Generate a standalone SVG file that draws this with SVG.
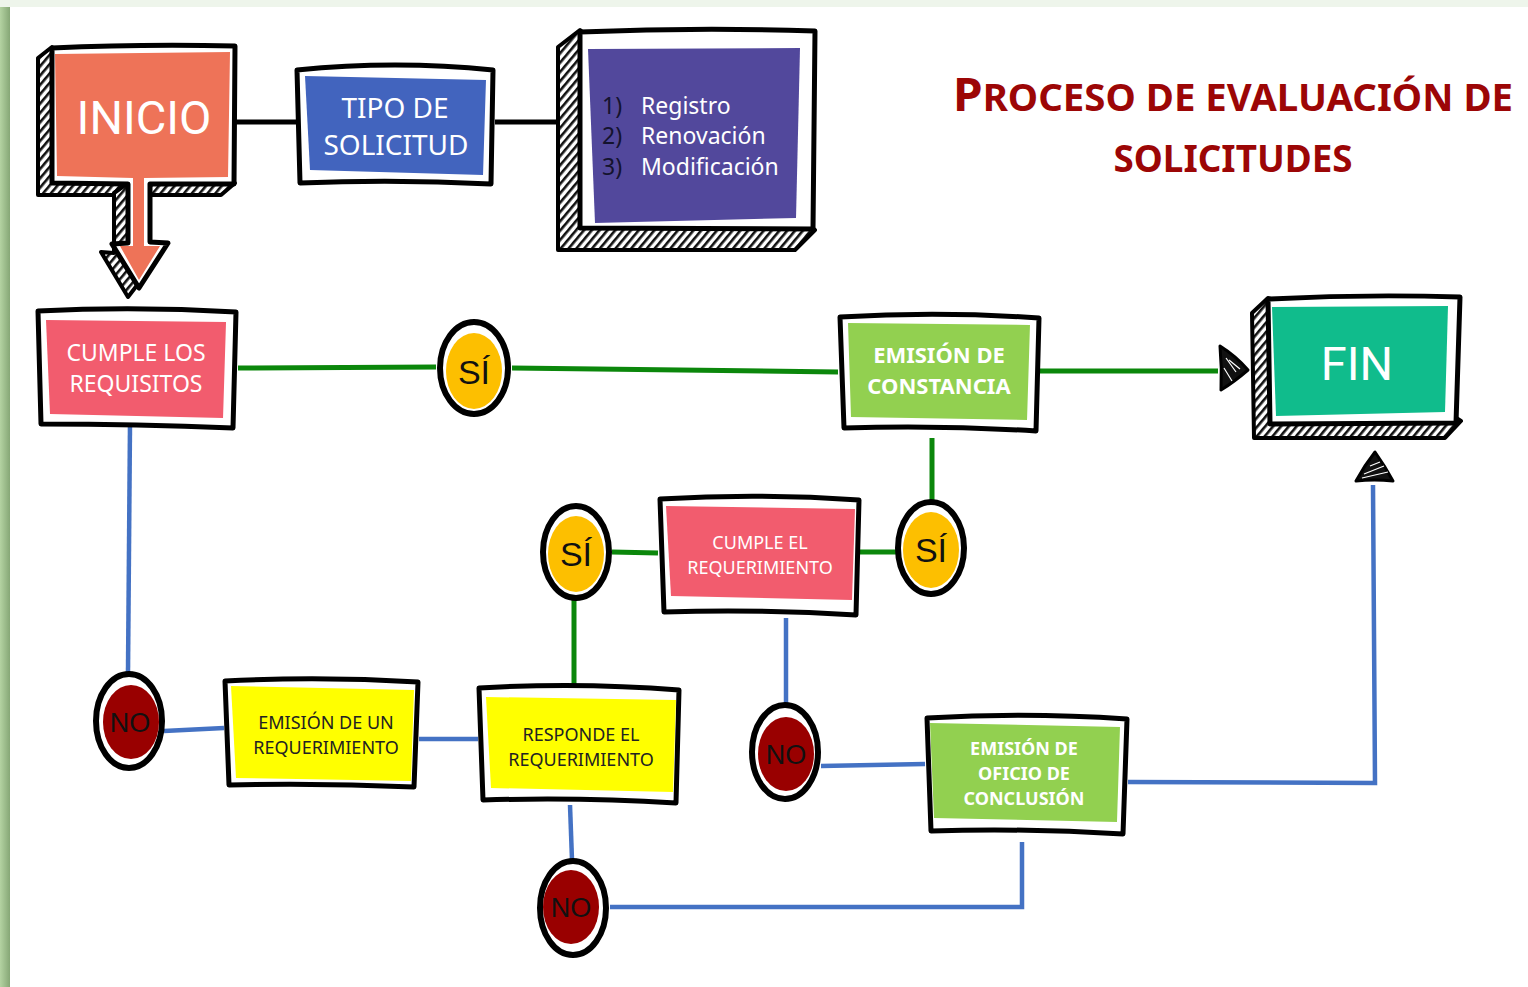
<svg xmlns="http://www.w3.org/2000/svg" width="1528" height="987" viewBox="0 0 1528 987">
<defs>
<pattern id="hatch" width="6" height="6" patternUnits="userSpaceOnUse" patternTransform="rotate(40)">
<rect width="6" height="6" fill="#fff"/><rect width="2.6" height="6" fill="#111"/>
</pattern>
<linearGradient id="lshade" x1="0" y1="0" x2="1" y2="0">
<stop offset="0" stop-color="#b4d3a2"/><stop offset="1" stop-color="#86a776"/>
</linearGradient>
<style>
.ol{fill:#fff;stroke:#000;stroke-width:5;stroke-linejoin:round;stroke-linecap:round}
.hx{fill:url(#hatch);stroke:#000;stroke-width:4;stroke-linejoin:round}
.ring{fill:#fff;stroke:#000;stroke-width:6}
.g{stroke:#0b870b;stroke-width:5;fill:none}
.b{stroke:#4472c4;stroke-width:4.5;fill:none}
.k{stroke:#000;stroke-width:5;fill:none}
.t{font-family:"Noto Sans","Open Sans",sans-serif;text-anchor:middle}
.big{font-family:Roboto,"Liberation Sans",sans-serif;text-anchor:middle;fill:#fff}
.w{fill:#fff}
.bold{font-weight:700}
.ct{font-family:"Liberation Sans",Arial,sans-serif;text-anchor:middle;fill:#111}
</style>
</defs>
<rect width="1528" height="987" fill="#eef5eb"/>
<rect x="0" y="7" width="10" height="980" fill="url(#lshade)"/>
<rect x="10" y="7" width="1518" height="980" fill="#fff"/>

<g id="connectors">
<line class="k" x1="235" y1="122" x2="296" y2="122"/>
<line class="k" x1="495" y1="122" x2="558" y2="122"/>
<line class="g" x1="238" y1="368" x2="436" y2="367"/>
<line class="g" x1="512" y1="368" x2="838" y2="372"/>
<line class="g" x1="1040" y1="371" x2="1218" y2="371"/>
<line class="g" x1="932" y1="438" x2="932" y2="500"/>
<line class="g" x1="860" y1="552" x2="896" y2="552"/>
<line class="g" x1="612" y1="552" x2="658" y2="553"/>
<line class="g" x1="574" y1="600" x2="574" y2="684"/>
<line class="b" x1="130" y1="424" x2="128" y2="672"/>
<line class="b" x1="164" y1="731" x2="224" y2="728"/>
<line class="b" x1="419" y1="739" x2="478" y2="739"/>
<line class="b" x1="786" y1="618" x2="786" y2="705"/>
<line class="b" x1="821" y1="766" x2="925" y2="764"/>
<path class="b" d="M1128,782 L1375,783 L1373,485"/>
<line class="b" x1="570" y1="805" x2="572" y2="860"/>
<path class="b" d="M610,907 L1022,907 L1022,842"/>
<path d="M1220,346 Q1236,356 1248,370 Q1234,382 1221,390 Q1222,368 1220,346 Z" fill="#111" stroke="#000" stroke-width="3" stroke-linejoin="round"/>
<path d="M1226,358 L1236,372 M1224,368 L1232,381 M1229,360 L1240,369" stroke="#fff" stroke-width="1.2"/>
<path d="M1356,481 Q1364,466 1375,452 Q1385,466 1393,481 Q1374,479 1356,481 Z" fill="#111" stroke="#000" stroke-width="3" stroke-linejoin="round"/>
<path d="M1364,474 L1384,466 M1362,478 L1388,472 M1370,466 L1380,462" stroke="#fff" stroke-width="1.2"/>
</g>

<g id="inicio">
<path class="hx" d="M52,47 L38,58 L38,195 L221,195 L235,183 Z"/>
<path class="hx" d="M128,183 L114,193 L114,253 L101,252 L128,297 L138,284 Z"/>
<path class="ol" d="M52,48 Q140,44 235,46 L234,184 L150,184 L150,242 L168,243 L139,288 L112,244 L128,243 L128,184 L52,183 Z"/>
<path d="M55,54 L230,52 L228,177 L144,178 L144,246 L160,246 L139,280 L120,246 L133,246 L133,178 L57,176 Z" fill="#ee7358"/>
<text class="big" x="144" y="134" font-size="47">INICIO</text>
</g>

<g id="tipo">
<path class="ol" d="M297,70 Q395,60 493,70 L491,184 Q395,179 300,183 Z"/>
<path d="M305,76 L486,80 L483,175 L310,170 Z" fill="#4264be"/>
<text class="t w" x="395" y="118" font-size="28">TIPO DE</text>
<text class="t w" x="396" y="155" font-size="28">SOLICITUD</text>
</g>

<g id="lista">
<path class="hx" d="M580,30 L558,47 L558,250 L795,250 L815,230 Z"/>
<path class="ol" d="M580,32 Q700,27 815,31 L813,229 L580,228 Z"/>
<path d="M588,49 L800,48 L796,218 L595,223 Z" fill="#52489c"/>
<g font-family="Noto Sans,'Open Sans',sans-serif" font-size="23">
<text x="602" y="114" fill="#14132e">1)</text>
<text x="602" y="144" fill="#14132e">2)</text>
<text x="602" y="175" fill="#14132e">3)</text>
<text x="641" y="114" fill="#fff">Registro</text>
<text x="641" y="144" fill="#fff">Renovación</text>
<text x="641" y="175" fill="#fff">Modificación</text>
</g>
</g>

<g id="titulo" fill="#9c0606" font-family="'Noto Sans','Open Sans',sans-serif" font-weight="700">
<text x="1233" y="111" text-anchor="middle" textLength="560" lengthAdjust="spacingAndGlyphs"><tspan font-size="46">P</tspan><tspan font-size="37">ROCESO DE EVALUACIÓN DE</tspan></text>
<text x="1233" y="172" text-anchor="middle" font-size="37" textLength="239" lengthAdjust="spacingAndGlyphs">SOLICITUDES</text>
</g>

<g id="cumple-requisitos">
<path class="ol" d="M38,311 Q136,306 236,312 L233,428 Q136,424 41,424 Z"/>
<path d="M46,320 L226,322 L223,418 L50,414 Z" fill="#f25c6e"/>
<text class="t w" x="136" y="361" font-size="23">CUMPLE LOS</text>
<text class="t w" x="136" y="392" font-size="23">REQUISITOS</text>
</g>

<g id="si1">
<ellipse class="ring" cx="474" cy="368" rx="34" ry="46"/>
<ellipse cx="474" cy="371" rx="28" ry="38" fill="#fdbf00"/>
<text class="ct" x="474" y="384" font-size="34">SÍ</text>
</g>

<g id="constancia">
<path class="ol" d="M840,317 Q940,311 1039,318 L1036,431 Q940,425 844,428 Z"/>
<path d="M848,323 L1030,325 L1027,420 L851,417 Z" fill="#92d050"/>
<text class="t w bold" x="939" y="363" font-size="22">EMISIÓN DE</text>
<text class="t w bold" x="939" y="394" font-size="22">CONSTANCIA</text>
</g>

<g id="fin">
<path class="hx" d="M1268,298 L1252,313 L1254,438 L1445,438 L1461,421 Z"/>
<path class="ol" d="M1268,299 Q1365,294 1460,297 L1456,423 L1270,424 Z"/>
<path d="M1272,307 L1448,306 L1445,412 L1276,416 Z" fill="#10bc8c"/>
<text class="big" x="1357" y="380" font-size="47">FIN</text>
</g>

<g id="no1">
<ellipse class="ring" cx="129" cy="721" rx="33" ry="47"/>
<ellipse cx="131" cy="722" rx="28" ry="37" fill="#990000"/>
<text class="ct" x="130" y="732" font-size="27">NO</text>
</g>

<g id="emision-req">
<path class="ol" d="M225,681 Q320,676 418,682 L414,787 Q320,783 229,785 Z"/>
<path d="M231,686 L414,690 L411,781 L236,778 Z" fill="#ffff00"/>
<text class="t" x="326" y="729" font-size="18" fill="#222">EMISIÓN DE UN</text>
<text class="t" x="326" y="754" font-size="18" fill="#222">REQUERIMIENTO</text>
</g>

<g id="responde">
<path class="ol" d="M479,688 Q580,682 679,690 L676,803 Q580,797 483,800 Z"/>
<path d="M486,697 L676,700 L673,792 L491,788 Z" fill="#ffff00"/>
<text class="t" x="581" y="741" font-size="18" fill="#222">RESPONDE EL</text>
<text class="t" x="581" y="766" font-size="18" fill="#222">REQUERIMIENTO</text>
</g>

<g id="si2">
<ellipse class="ring" cx="576" cy="552" rx="33" ry="46"/>
<ellipse cx="576" cy="554" rx="28" ry="38" fill="#fdbf00"/>
<text class="ct" x="576" y="566" font-size="34">SÍ</text>
</g>

<g id="cumple-req">
<path class="ol" d="M660,499 Q760,493 859,500 L856,615 Q760,609 664,612 Z"/>
<path d="M666,506 L855,509 L852,600 L671,596 Z" fill="#f25c6e"/>
<text class="t w" x="760" y="549" font-size="18">CUMPLE EL</text>
<text class="t w" x="760" y="574" font-size="18">REQUERIMIENTO</text>
</g>

<g id="si3">
<ellipse class="ring" cx="931" cy="548" rx="33" ry="46"/>
<ellipse cx="931" cy="550" rx="28" ry="38" fill="#fdbf00"/>
<text class="ct" x="931" y="562" font-size="34">SÍ</text>
</g>

<g id="no2">
<ellipse class="ring" cx="785" cy="752" rx="33" ry="47"/>
<ellipse cx="786" cy="754" rx="28" ry="37" fill="#990000"/>
<text class="ct" x="786" y="764" font-size="27">NO</text>
</g>

<g id="oficio">
<path class="ol" d="M927,718 Q1025,712 1127,719 L1123,834 Q1025,828 931,831 Z"/>
<path d="M930,723 L1120,727 L1117,822 L934,818 Z" fill="#92d050"/>
<text class="t w bold" x="1024" y="755" font-size="18">EMISIÓN DE</text>
<text class="t w bold" x="1024" y="780" font-size="18">OFICIO DE</text>
<text class="t w bold" x="1024" y="805" font-size="18">CONCLUSIÓN</text>
</g>

<g id="no3">
<ellipse class="ring" cx="573" cy="908" rx="33" ry="47"/>
<ellipse cx="571" cy="907" rx="28" ry="37" fill="#990000"/>
<text class="ct" x="571" y="917" font-size="27">NO</text>
</g>
</svg>
